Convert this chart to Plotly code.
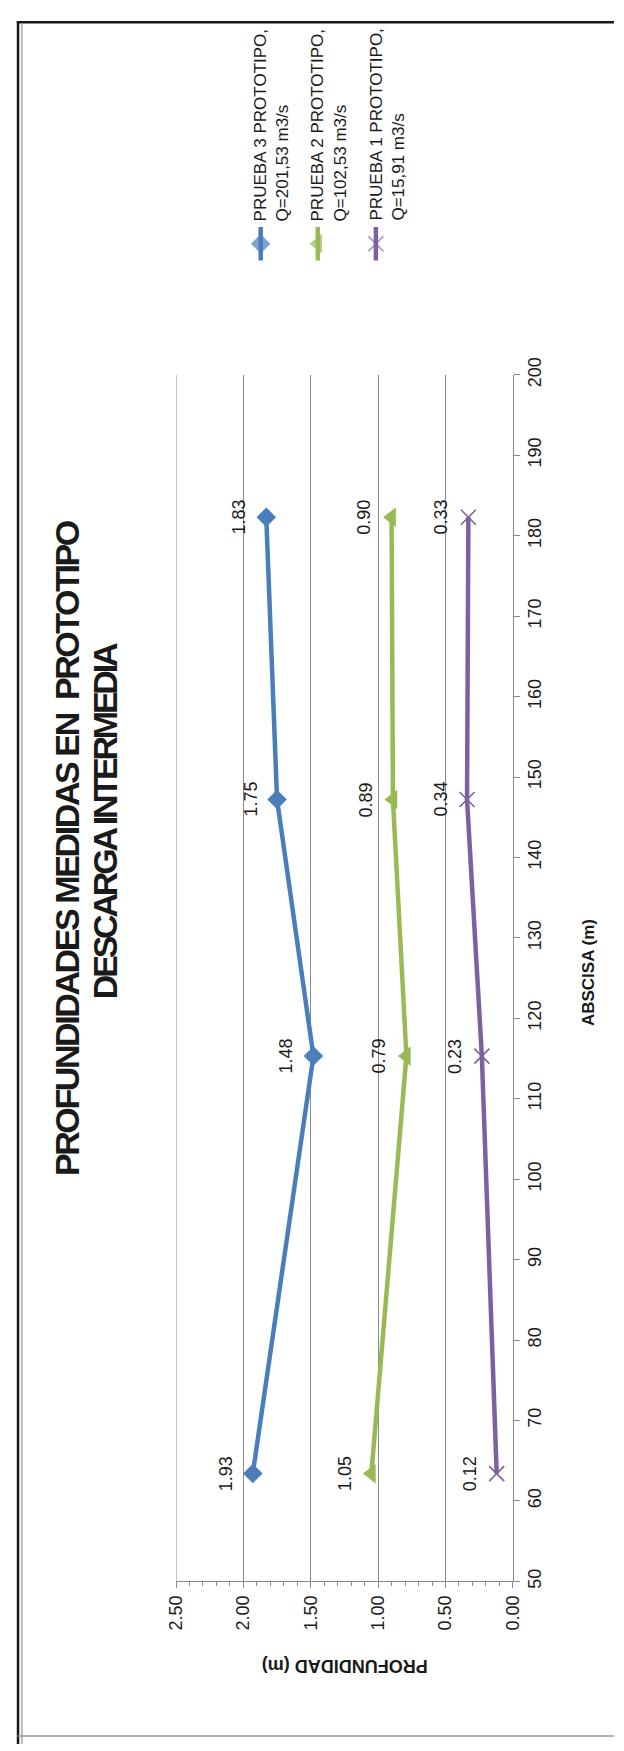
import plotly.graph_objects as go

# Measured depths along the channel (prototype scale)
abscisa = [63.4, 115.3, 147.2, 182.3]
prueba_3 = [1.93, 1.48, 1.75, 1.83]
prueba_2 = [1.05, 0.79, 0.89, 0.90]
prueba_1 = [0.12, 0.23, 0.34, 0.33]

series_names = [
    "PRUEBA 3 PROTOTIPO,<br>Q=201,53 m3/s",
    "PRUEBA 2 PROTOTIPO,<br>Q=102,53 m3/s",
    "PRUEBA 1 PROTOTIPO,<br>Q=15,91 m3/s",
]
series_values = [prueba_3, prueba_2, prueba_1]
series_colors = ["#4A7EBB", "#98B954", "#7D60A0"]
series_symbols = ["diamond", "triangle-left", "x-thin-open"]
series_sizes = [15, 17, 15]

prof_ticks = [0.0, 0.5, 1.0, 1.5, 2.0, 2.5]

W, H = 624, 1751
FONT = "Liberation Sans, Arial, sans-serif"
TXT = "#1a1a1a"
GRID = "#8a8a8a"


def px(x):
    return x / W


def py(y):
    return 1 - y / H


def marker_style(sym, size, col):
    return dict(symbol=sym, size=size, color=col,
                line=dict(width=1.6 if sym.startswith("x") else 0, color=col))


fig = go.Figure()

for name, vals, col, sym, size in zip(series_names, series_values, series_colors,
                                      series_symbols, series_sizes):
    fig.add_trace(go.Scatter(
        x=vals, y=abscisa, mode="lines+markers", name=name,
        line=dict(color=col, width=4.5),
        marker=marker_style(sym, size, col),
        xaxis="x", yaxis="y", showlegend=False,
    ))
    for v, a in zip(vals, abscisa):
        fig.add_annotation(
            x=v, y=a, xref="x", yref="y", text=f"{v:.2f}", showarrow=False,
            textangle=-90, xshift=-27, xanchor="center", yanchor="middle",
            font=dict(family=FONT, size=18, color=TXT),
        )

# Rotated legend: sample line + marker, then two-line label
leg_x = [259, 318, 378]
for name, col, sym, size, lx in zip(series_names, series_colors, series_symbols,
                                    series_sizes, leg_x):
    fig.add_trace(go.Scatter(
        x=[lx, lx, lx], y=[212, 229, 246], mode="lines+markers",
        line=dict(color=col, width=4.5),
        marker=marker_style(sym, [0, size, 0], col),
        xaxis="x2", yaxis="y2", showlegend=False, hoverinfo="skip",
    ))
    fig.add_annotation(
        x=px(lx + 11), y=py(208), xref="paper", yref="paper", text=name,
        showarrow=False, textangle=-90, align="left",
        xanchor="center", yanchor="bottom",
        font=dict(family=FONT, size=17, color=TXT),
    )

# Chart title (two rotated lines, tightly spaced bold caps)
TITLE_FONT = dict(family=FONT, size=34, color=TXT)
fig.add_annotation(
    x=px(59), y=py(842), xref="paper", yref="paper",
    text='<span style="letter-spacing:-2.4px"><b>PROFUNDIDADES MEDIDAS EN  PROTOTIPO</b></span>',
    showarrow=False, textangle=-90, xanchor="center", yanchor="middle", font=TITLE_FONT,
)
fig.add_annotation(
    x=px(99), y=py(815), xref="paper", yref="paper",
    text='<span style="letter-spacing:-3.2px"><b>DESCARGA INTERMEDIA</b></span>',
    showarrow=False, textangle=-90, xanchor="center", yanchor="middle", font=TITLE_FONT,
)

# Axis titles
fig.add_annotation(
    x=px(597), y=py(968), xref="paper", yref="paper", text="<b>ABSCISA (m)</b>",
    showarrow=False, textangle=-90, xanchor="center", yanchor="middle",
    font=dict(family=FONT, size=17, color=TXT),
)
fig.add_annotation(
    x=px(345.5), y=py(1672), xref="paper", yref="paper", text="<b>PROFUNDIDAD (m)</b>",
    showarrow=False, textangle=180, xanchor="center", yanchor="middle",
    font=dict(family=FONT, size=18, color=TXT),
)

# Gridline at the far end of the depth axis
fig.add_shape(type="line", xref="x", yref="y domain",
              x0=prof_ticks[-1], x1=prof_ticks[-1], y0=0, y1=1,
              line=dict(color=GRID, width=1))

# Outer frame
frame = [
    dict(x0=px(7), x1=1, y0=py(4.3), y1=py(4.3), color="#1a1a1a", width=2.5),
    dict(x0=px(8.3), x1=px(8.3), y0=py(3), y1=0, color="#1a1a1a", width=2.5),
    dict(x0=px(12.3), x1=px(12.3), y0=py(5.5), y1=0, color="#a8a8a8", width=1.5),
    dict(x0=px(8), x1=1, y0=py(1743), y1=py(1743), color="#9a9a9a", width=1.5),
]
for f in frame:
    fig.add_shape(type="line", xref="paper", yref="paper",
                  x0=f["x0"], x1=f["x1"], y0=f["y0"], y1=f["y1"],
                  line=dict(color=f["color"], width=f["width"]))

fig.update_layout(
    width=W, height=H, margin=dict(l=0, r=0, t=0, b=0),
    paper_bgcolor="white", plot_bgcolor="rgba(0,0,0,0)", showlegend=False,
    font=dict(family=FONT, color=TXT),
    xaxis=dict(
        domain=[px(171.5), px(519.5)], range=[2.5, 0], anchor="y",
        tickvals=prof_ticks, tickformat=".2f", tickangle=-90,
        ticks="outside", ticklen=6, tickcolor=GRID, tickwidth=1,
        minor=dict(dtick=0.1, ticks="outside", ticklen=4, tickcolor=GRID, showgrid=False),
        showline=True, linecolor=GRID, linewidth=1,
        showgrid=True, gridcolor=GRID, gridwidth=1, zeroline=False,
        tickfont=dict(family=FONT, size=18, color=TXT),
    ),
    yaxis=dict(
        domain=[py(1586), py(362)], range=[50, 200], anchor="x", side="right",
        dtick=10, tick0=50, tickangle=-90,
        ticks="outside", ticklen=6, tickcolor=GRID, tickwidth=1,
        showline=True, linecolor=GRID, linewidth=1,
        showgrid=False, zeroline=False,
        tickfont=dict(family=FONT, size=18, color=TXT),
    ),
    xaxis2=dict(domain=[0, 1], range=[0, W], anchor="y2", visible=False, fixedrange=True),
    yaxis2=dict(domain=[0, 1], range=[H, 0], anchor="x2", visible=False, fixedrange=True),
)

fig.write_html("out.html")
